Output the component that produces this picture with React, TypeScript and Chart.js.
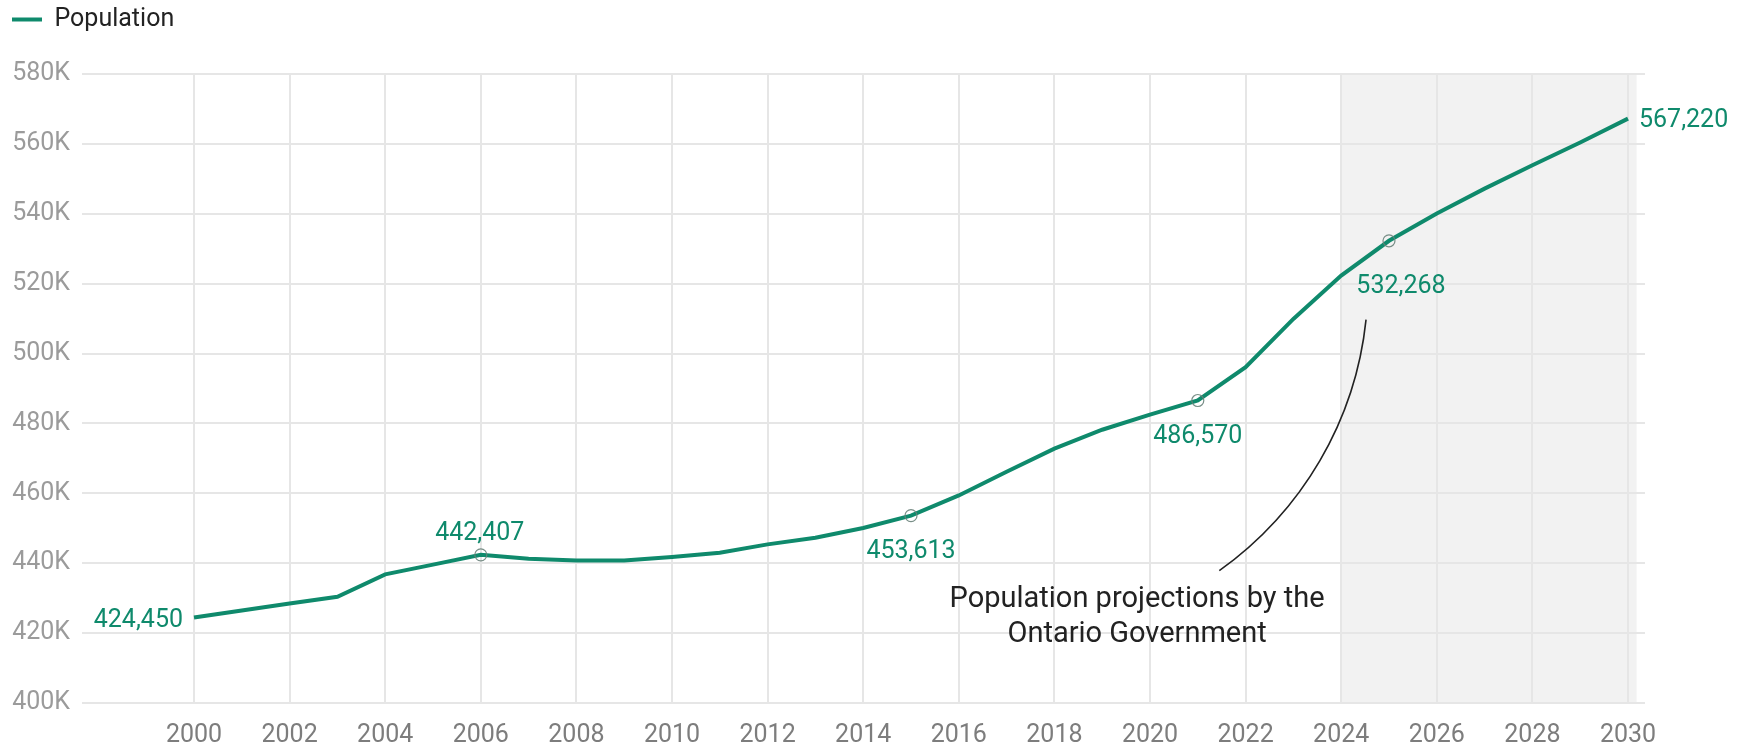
import React, { useEffect, useRef } from 'react';
import { Chart, registerables } from 'chart.js';

Chart.register(...registerables);
Chart.defaults.font.family = 'Roboto';

// ---------- data ----------
const years = [
  2000, 2001, 2002, 2003, 2004, 2005, 2006, 2007, 2008, 2009, 2010,
  2011, 2012, 2013, 2014, 2015, 2016, 2017, 2018, 2019, 2020,
  2021, 2022, 2023, 2024, 2025, 2026, 2027, 2028, 2029, 2030,
];
const population = [
  424450, 426500, 428500, 430400, 436800, 439600, 442407, 441300, 440800, 440800, 441800,
  443000, 445400, 447300, 450100, 453613, 459400, 466200, 472800, 478200, 482500,
  486570, 496100, 509900, 522300, 532268, 540100, 547200, 553900, 560400, 567220,
];
const markerYears = [2006, 2015, 2021, 2025];
const xTickYears = [2000, 2002, 2004, 2006, 2008, 2010, 2012, 2014, 2016, 2018, 2020, 2022, 2024, 2026, 2028, 2030];
const yTickValues = [400000, 420000, 440000, 460000, 480000, 500000, 520000, 540000, 560000, 580000];
const projectionRange = [2024, 2030.18];
const annotationLines = ['Population projections by the', 'Ontario Government'];
const annotationAnchor = { year: 2019.73, value: 427500 };
// connector curve (data units: [year, value]) start, ctrl1, ctrl2, end
const annotationCurve = [
  [2021.45, 437860],
  [2023.19, 454890],
  [2024.3, 480890],
  [2024.52, 509710],
];

// label placement (offsets in px relative to point)
const labelPlacements = [
  { year: 2000, align: 'right', dx: -11, dy: 9 },
  { year: 2006, align: 'center', dx: -1, dy: -14.5 },
  { year: 2015, align: 'center', dx: 0, dy: 42 },
  { year: 2021, align: 'center', dx: 0, dy: 42.3 },
  { year: 2025, align: 'center', dx: 12, dy: 52.7 },
  { year: 2030, align: 'left', dx: 11, dy: 8 },
];

const GREEN = '#0f8a6c';

const legendSpacer = {
  id: 'legendSpacer',
  beforeInit(chart: any) {
    const legend = chart.legend;
    if (!legend) return;
    const orig = legend.fit;
    legend.fit = function () {
      orig.call(this);
      this.height += 32;
    };
  },
};

const shadePlugin = {
  id: 'projectionShade',
  beforeDraw(chart: any) {
    const { ctx, chartArea, scales } = chart;
    const x0 = scales.x.getPixelForValue(projectionRange[0]);
    const x1 = scales.x.getPixelForValue(projectionRange[1]);
    ctx.save();
    ctx.fillStyle = '#f2f2f2';
    ctx.fillRect(x0, chartArea.top, x1 - x0, chartArea.bottom - chartArea.top);
    ctx.restore();
  },
};

const labelsPlugin = {
  id: 'valueLabels',
  afterDatasetsDraw(chart: any) {
    const { ctx, scales } = chart;
    const meta = chart.getDatasetMeta(0);
    ctx.save();
    ctx.font = '25px Roboto';
    ctx.fillStyle = GREEN;
    ctx.textBaseline = 'alphabetic';
    labelPlacements.forEach((p) => {
      const i = years.indexOf(p.year);
      const pt = meta.data[i];
      ctx.textAlign = p.align;
      ctx.fillText(population[i].toLocaleString('en-US'), pt.x + p.dx, pt.y + p.dy);
    });

    // annotation
    const ax = scales.x.getPixelForValue(annotationAnchor.year);
    const ay = scales.y.getPixelForValue(annotationAnchor.value);
    ctx.font = '29px Roboto';
    ctx.fillStyle = '#222222';
    ctx.textAlign = 'center';
    annotationLines.forEach((line, k) => {
      ctx.fillText(line, ax, ay + k * 35);
    });

    const pts = annotationCurve.map(([yr, v]) => [scales.x.getPixelForValue(yr), scales.y.getPixelForValue(v)]);
    ctx.beginPath();
    ctx.moveTo(pts[0][0], pts[0][1]);
    ctx.bezierCurveTo(pts[1][0], pts[1][1], pts[2][0], pts[2][1], pts[3][0], pts[3][1]);
    ctx.strokeStyle = '#222222';
    ctx.lineWidth = 1.6;
    ctx.stroke();
    ctx.restore();
  },
};

export default function App() {
  const canvasRef = useRef<HTMLCanvasElement | null>(null);

  useEffect(() => {
    if (!canvasRef.current) return;
    const gridOpts = { color: '#e6e6e6', lineWidth: 2, drawTicks: false };
    const chart = new Chart(canvasRef.current, {
      type: 'line',
      data: {
        datasets: [
          {
            label: 'Population',
            data: years.map((y, i) => ({ x: y, y: population[i] })),
            borderColor: GREEN,
            backgroundColor: GREEN,
            borderWidth: 4,
            tension: 0,
            pointRadius: years.map((y) => (markerYears.includes(y) ? 6 : 0)),
            pointHoverRadius: 0,
            pointBorderColor: 'rgba(105,130,122,0.9)',
            pointBackgroundColor: 'rgba(0,0,0,0)',
            pointBorderWidth: 1.2,
          },
        ],
      },
      options: {
        animation: false,
        responsive: false,
        events: [],
        layout: { padding: { left: 12, right: 101, top: 7, bottom: 0 } },
        plugins: {
          legend: {
            display: true,
            position: 'top',
            align: 'start',
            labels: {
              usePointStyle: true,
              pointStyle: 'line',
              pointStyleWidth: 30,
              padding: 0,
              color: '#222222',
              font: { size: 25, family: 'Roboto' },
              generateLabels: (chart: any) =>
                chart.data.datasets.map((ds: any, i: number) => ({
                  text: ds.label,
                  strokeStyle: ds.borderColor,
                  fillStyle: ds.borderColor,
                  lineWidth: ds.borderWidth,
                  pointStyle: 'line',
                  hidden: false,
                  datasetIndex: i,
                  fontColor: '#222222',
                })),
            },
          },
          tooltip: { enabled: false },
        },
        scales: {
          x: {
            type: 'linear',
            min: 1997.657,
            max: 2030.356,
            afterBuildTicks: (scale: any) => {
              scale.ticks = xTickYears.map((v) => ({ value: v }));
            },
            afterFit: (scale: any) => {
              scale.height = 41;
            },
            ticks: {
              callback: (v: any) => String(v),
              font: { size: 25 },
              color: '#7d7d7d',
              padding: 18,
              maxRotation: 0,
              autoSkip: false,
            },
            grid: gridOpts,
            border: { display: false },
          },
          y: {
            type: 'linear',
            min: 400000,
            max: 580000,
            afterBuildTicks: (scale: any) => {
              scale.ticks = yTickValues.map((v) => ({ value: v }));
            },
            afterFit: (scale: any) => {
              scale.width = 70;
            },
            ticks: {
              callback: (v: any) => `${Number(v) / 1000}K`,
              font: { size: 25 },
              color: '#9b9b9b',
              padding: 12,
            },
            grid: gridOpts,
            border: { display: false },
          },
        },
      },
      plugins: [legendSpacer, shadePlugin, labelsPlugin],
    } as any);
    return () => chart.destroy();
  }, []);

  return (
    <div style={{ position: 'absolute', left: 0, top: 0, width: 1746, height: 744, background: '#fff' }}>
      <canvas ref={canvasRef} width={1746} height={744} />
    </div>
  );
}
